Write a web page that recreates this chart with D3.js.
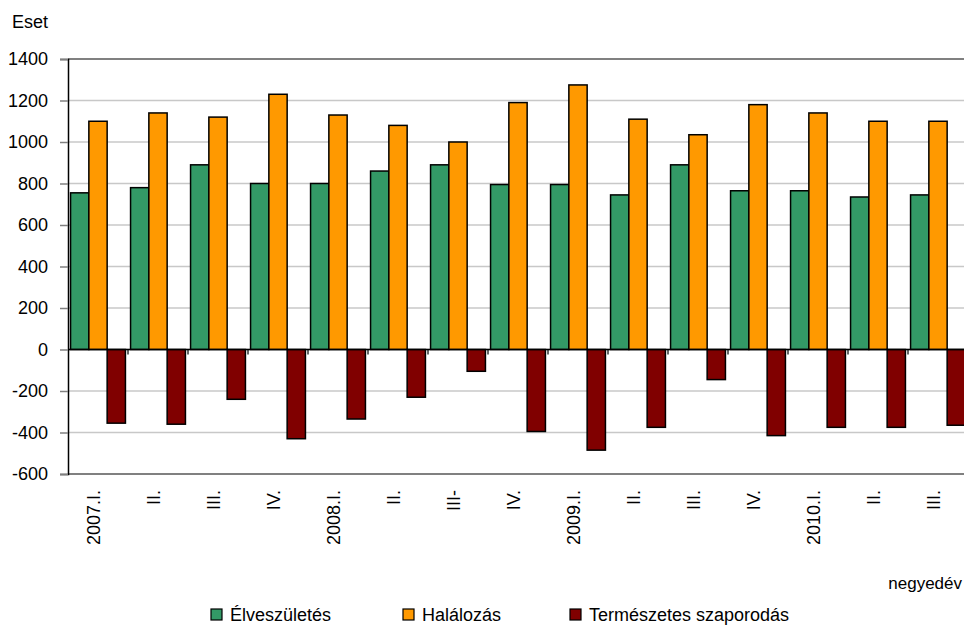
<!DOCTYPE html>
<html>
<head>
<meta charset="utf-8">
<script src="https://cdn.jsdelivr.net/npm/d3@7"></script>
<style>
  body { margin: 0; background: #fff; }
  text { font-family: "Liberation Sans", Arial, sans-serif; fill: #000; }
</style>
</head>
<body>
<div id="grafico"></div>
<script>
var negyedevek = ['2007.I.', 'II.', 'III.', 'IV.', '2008.I.', 'II.', 'III-', 'IV.',
                  '2009.I.', 'II.', 'III.', 'IV.', '2010.I.', 'II.', 'III.'];
var elveszuletes = [755, 780, 890, 800, 800, 860, 890, 795, 795, 745, 890, 765, 765, 735, 745];
var halalozas = [1100, 1140, 1120, 1230, 1130, 1080, 1000, 1190, 1275, 1110, 1035, 1180, 1140, 1100, 1100];
var szaporodas = [-355, -360, -240, -430, -335, -230, -105, -395, -485, -375, -145, -415, -375, -375, -365];
var yTicks = [-600, -400, -200, 0, 200, 400, 600, 800, 1000, 1200, 1400];
var sorozatok = ['Élveszületés', 'Halálozás', 'Természetes szaporodás'];
var szinek = ['#339966', '#ff9900', '#800000'];

var width = 964, height = 632;
var plot = { left: 68, right: 968, top: 59, bottom: 474 };

var svg = d3.select('#grafico').append('svg')
    .attr('width', width).attr('height', height);

var x = d3.scaleBand().domain(d3.range(negyedevek.length)).range([plot.left, plot.right]).padding(0);
var xs = d3.scaleBand().domain(d3.range(sorozatok.length)).range([0, x.bandwidth()])
    .paddingInner(0).paddingOuter(0.14);
var y = d3.scaleLinear().domain([-600, 1400]).range([plot.bottom, plot.top]);

/* RÁCSVONALAK */
svg.append('g').selectAll('line').data(yTicks).enter().append('line')
    .attr('x1', plot.left).attr('x2', width)
    .attr('y1', function(d) { return y(d); }).attr('y2', function(d) { return y(d); })
    .attr('stroke', function(d) { return (d == 1400 || d == -600) ? '#808080' : '#c8c8c8'; })
    .attr('stroke-width', function(d) { return (d == 1400 || d == -600) ? 2 : 1.5; });

/* Y TENGELY */
var yAxis = svg.append('g').attr('transform', 'translate(' + plot.left + ',0)')
    .call(d3.axisLeft(y).tickValues(yTicks).tickSize(8).tickPadding(12)
        .tickFormat(function(d) { return String(d); }));
yAxis.select('.domain').attr('stroke', '#000').attr('stroke-width', 1.5);
yAxis.selectAll('.tick line').attr('stroke', '#808080').attr('stroke-width', 1.5);
yAxis.selectAll('.tick text').style('font-size', '18px').attr('fill', '#000')
    .attr('font-family', '"Liberation Sans", Arial, sans-serif');

svg.append('text').attr('x', 12).attr('y', 28).style('font-size', '18px').text('Eset');

/* OSZLOPOK */
var adatok = [elveszuletes, halalozas, szaporodas];
adatok.forEach(function(sor, s) {
    svg.append('g').selectAll('rect').data(sor).enter().append('rect')
        .attr('x', function(d, i) { return x(i) + xs(s); })
        .attr('y', function(d) { return y(Math.max(0, d)); })
        .attr('width', xs.bandwidth())
        .attr('height', function(d) { return Math.abs(y(d) - y(0)); })
        .attr('fill', szinek[s])
        .attr('stroke', '#000').attr('stroke-width', 1.5);
});

/* X TENGELY (nulla vonal) */
svg.append('line').attr('x1', plot.left).attr('x2', width)
    .attr('y1', y(0)).attr('y2', y(0)).attr('stroke', '#000').attr('stroke-width', 1.5);
svg.append('g').selectAll('line').data(d3.range(1, negyedevek.length)).enter().append('line')
    .attr('x1', function(d) { return x(d); }).attr('x2', function(d) { return x(d); })
    .attr('y1', y(0)).attr('y2', y(0) + 5)
    .attr('stroke', '#000').attr('stroke-width', 1.2);

svg.append('g').selectAll('text').data(negyedevek).enter().append('text')
    .attr('transform', function(d, i) {
        return 'translate(' + (x(i) + x.bandwidth() / 2 - 4.5) + ',490) rotate(-90)';
    })
    .attr('dy', '0.35em')
    .attr('text-anchor', 'end')
    .style('font-size', '18px')
    .text(function(d) { return d; });

svg.append('text').attr('x', 962).attr('y', 589).attr('text-anchor', 'end')
    .style('font-size', '17px').text('negyedév');

/* JELMAGYARÁZAT */
var jelX = [211, 403, 570];
var legend = svg.append('g');
sorozatok.forEach(function(nev, s) {
    legend.append('rect').attr('x', jelX[s]).attr('y', 609).attr('width', 11).attr('height', 11)
        .attr('fill', szinek[s]).attr('stroke', '#000').attr('stroke-width', 1.2);
    legend.append('text').attr('x', jelX[s] + 19).attr('y', 621)
        .style('font-size', '18px').text(nev);
});
</script>
</body>
</html>
